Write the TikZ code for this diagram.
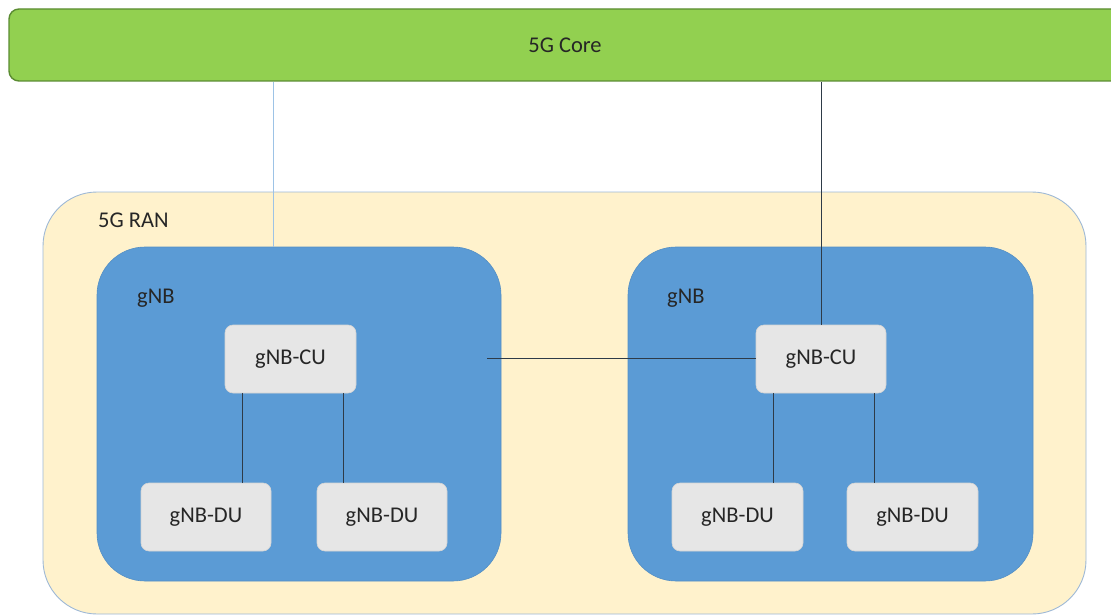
\documentclass[tikz,border=0pt]{standalone}
\usepackage{fontspec}
\setmainfont{Carlito}
\definecolor{coreFill}{HTML}{92D050}
\definecolor{coreEdge}{HTML}{5B8C32}
\definecolor{ranFill}{HTML}{FFF2CC}
\definecolor{ranEdge}{HTML}{9DB8D6}
\definecolor{gnbFill}{HTML}{5B9BD5}
\definecolor{unitFill}{HTML}{E6E6E6}
\definecolor{unitEdge}{HTML}{D4D4D4}
\definecolor{linkDark}{HTML}{2E3B48}
\definecolor{linkLight}{HTML}{9DC3E6}
\definecolor{ink}{HTML}{262626}
\begin{document}
\begin{tikzpicture}[x=1pt,y=-1pt,
  every node/.style={font=\fontsize{22.5}{26}\selectfont, text=ink, inner sep=0pt},
  corebar/.style={draw=coreEdge, line width=1.4pt, fill=coreFill, rounded corners=10pt,
                  minimum width=1112pt, minimum height=72pt},
  ranarea/.style={draw=ranEdge, line width=0.9pt, fill=ranFill, rounded corners=54pt},
  gnbarea/.style={draw=gnbFill!92!black, line width=0.6pt, fill=gnbFill, rounded corners=48pt},
  unitbox/.style={draw=unitEdge, line width=0.6pt, fill=unitFill, rounded corners=8pt,
                  minimum height=68pt},
  darklink/.style={draw=linkDark, line width=1pt},
  lightlink/.style={draw=linkLight, line width=1pt},
  caption/.style={anchor=west}]
\useasboundingbox (0,0) rectangle (1111,615);
\clip (0,0) rectangle (1111,615);

% core network bar
\node[corebar] (core) at (565,45) {5G Core};

% radio access network and the two base stations
\node[ranarea, minimum width=1043pt, minimum height=422pt] (ran) at (564.5,403) {};
\node[caption] (ranlabel) at (98,220) {5G RAN};

\node[gnbarea, minimum width=404pt, minimum height=334pt] (gnbL) at (299,414) {};
\node[gnbarea, minimum width=405pt, minimum height=334pt] (gnbR) at (830.5,414) {};
\node[caption] (gnbLlabel) at (137,298) {gNB};
\node[caption] (gnbRlabel) at (667,298) {gNB};

% central and distributed units
\node[unitbox, minimum width=131pt] (cuL) at (290.5,359) {gNB-CU};
\node[unitbox, minimum width=130pt] (cuR) at (821,359) {gNB-CU};
\node[unitbox, minimum width=130pt] (duL1) at (206,517) {gNB-DU};
\node[unitbox, minimum width=130pt] (duL2) at (382,517) {gNB-DU};
\node[unitbox, minimum width=131pt] (duR1) at (737.5,517) {gNB-DU};
\node[unitbox, minimum width=131pt] (duR2) at (912.5,517) {gNB-DU};

% links to the core
\draw[lightlink] ([xshift=-26pt]gnbL.north) -- ([xshift=-26pt]gnbL.north |- core.south);
\draw[darklink] (cuR.north) -- (cuR.north |- core.south);

% link between the base stations
\coordinate (xnEnd) at (487,358);
\draw[darklink] (xnEnd) -- (xnEnd -| cuR.west);

% CU to DU links
\draw[darklink] ([xshift=18pt]cuL.south west) -- ([xshift=18pt]cuL.south west |- duL1.north);
\draw[darklink] ([xshift=-13pt]cuL.south east) -- ([xshift=-13pt]cuL.south east |- duL2.north);
\draw[darklink] ([xshift=18pt]cuR.south west) -- ([xshift=18pt]cuR.south west |- duR1.north);
\draw[darklink] ([xshift=-12pt]cuR.south east) -- ([xshift=-12pt]cuR.south east |- duR2.north);
\end{tikzpicture}
\end{document}
